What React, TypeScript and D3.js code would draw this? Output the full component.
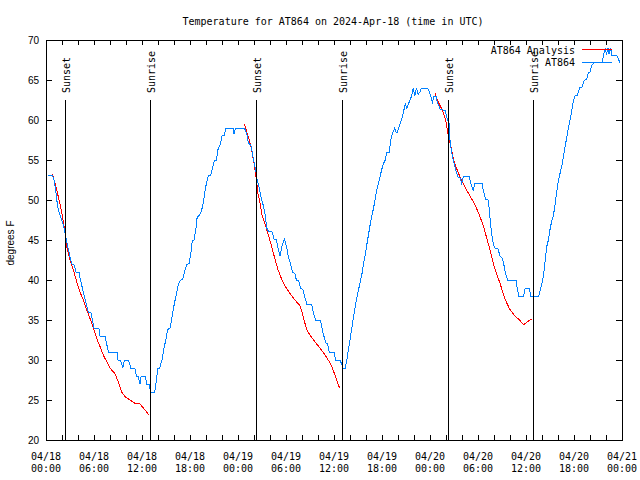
import * as d3 from "d3";

const W = 640, H = 480;
const PLOT = { left: 46, right: 622, top: 40, bottom: 440 };
const START = Date.UTC(2024, 3, 18, 0, 0);
const hr = (h: number) => new Date(START + h * 3600e3);

// observations, [hours since 04/18 00:00 UTC, degrees F]
const observed: [number, number][] = [
  [0.25, 53.1], [0.8, 53.1], [1.0, 52.5], [1.2, 51.3], [1.45, 49.2], [1.75, 48.1], [2.04, 47.3], [2.29, 46.3],
  [2.5, 45.3], [2.7, 44.2], [2.9, 43.4], [3.2, 42.0], [3.5, 41.9], [3.75, 41.0], [4.15, 40.9], [4.25, 40.3],
  [4.5, 39.2], [4.8, 37.9], [5.1, 36.7], [5.3, 36.0], [5.6, 36.0], [5.8, 35.0], [6.0, 34.0], [6.6, 34.0],
  [6.75, 33.0], [7.4, 33.0], [7.5, 32.4], [7.8, 31.0], [8.9, 31.0], [9.0, 30.0], [9.3, 30.0], [9.6, 29.0],
  [9.8, 30.0], [10.3, 30.0], [10.6, 29.0], [11.1, 29.0], [11.3, 28.0], [11.5, 28.0], [11.75, 27.0], [11.9, 28.0],
  [12.4, 28.0], [12.6, 27.0], [12.9, 27.0], [13.0, 26.4], [13.05, 26.0], [13.6, 26.0], [13.8, 27.5], [14.0, 29.0],
  [14.2, 29.0], [14.5, 30.0], [14.75, 31.5], [15.0, 32.6], [15.2, 33.8], [15.5, 34.0], [15.7, 35.0], [15.9, 36.3],
  [16.1, 37.3], [16.3, 38.3], [16.5, 39.3], [16.75, 39.9], [17.1, 40.1], [17.4, 41.3], [17.6, 41.9], [17.9, 42.1],
  [18.1, 43.3], [18.3, 45.0], [18.5, 45.0], [18.75, 46.5], [18.9, 47.9], [19.1, 48.0], [19.4, 48.5], [19.7, 49.8],
  [19.9, 51.3], [20.1, 52.3], [20.3, 53.1], [20.6, 53.1], [20.9, 54.4], [21.1, 55.0], [21.3, 55.0], [21.5, 56.3],
  [21.8, 57.0], [22.0, 58.0], [22.3, 58.1], [22.5, 59.0], [23.4, 59.0], [23.5, 58.2], [23.7, 59.0], [24.8, 59.0],
  [25.1, 58.3], [25.3, 57.1], [25.6, 56.9], [25.8, 55.8], [26.0, 54.8], [26.2, 53.8], [26.4, 52.5], [26.7, 51.3],
  [26.95, 50.0], [27.2, 49.2], [27.4, 48.1], [27.6, 46.5], [27.8, 46.1], [28.3, 46.0], [28.5, 45.1], [28.8, 45.0],
  [29.0, 44.0], [29.25, 43.0], [29.5, 44.2], [29.8, 45.1], [30.1, 44.0], [30.3, 42.9], [30.6, 41.9], [30.8, 41.0],
  [31.1, 40.8], [31.3, 40.0], [31.6, 39.9], [31.8, 39.0], [32.1, 38.8], [32.4, 37.7], [32.6, 37.0], [33.2, 37.0],
  [33.4, 36.0], [33.7, 35.0], [34.3, 35.0], [34.5, 34.0], [34.7, 33.1], [35.0, 32.1], [35.2, 32.0], [35.4, 31.0],
  [36.0, 31.0], [36.2, 30.0], [36.75, 30.0], [37.0, 29.4], [37.1, 29.0], [37.4, 29.0], [37.6, 30.0], [37.8, 31.3],
  [38.0, 32.5], [38.2, 33.8], [38.4, 35.2], [38.6, 36.3], [38.8, 37.5], [39.0, 38.5], [39.25, 39.6], [39.5, 40.8],
  [39.7, 42.1], [39.9, 43.1], [40.1, 44.4], [40.3, 45.6], [40.5, 46.8], [40.7, 47.9], [40.9, 48.8], [41.1, 49.8],
  [41.3, 51.0], [41.5, 51.9], [41.75, 52.9], [41.96, 53.8], [42.2, 54.6], [42.4, 55.0], [42.6, 56.0], [42.9, 56.0],
  [43.1, 57.5], [43.3, 58.3], [43.6, 59.0], [43.75, 58.5], [43.9, 58.4], [44.1, 59.0], [44.3, 59.6], [44.6, 60.6],
  [44.9, 62.0], [45.1, 61.5], [45.3, 62.0], [45.5, 62.5], [45.7, 63.0], [45.9, 64.0], [46.1, 63.0], [46.3, 64.0],
  [46.5, 63.2], [46.75, 63.5], [46.9, 64.0], [47.7, 64.0], [48.0, 63.3], [48.3, 62.2], [48.5, 63.0], [48.8, 63.0],
  [48.9, 62.2], [49.0, 62.0], [49.3, 61.3], [49.9, 61.2], [50.2, 60.0], [50.4, 59.5], [50.5, 57.5], [50.7, 56.0],
  [50.9, 55.0], [51.1, 54.2], [51.3, 53.5], [51.5, 52.9], [51.8, 52.7], [51.96, 52.1], [52.2, 53.0], [52.9, 53.0],
  [53.1, 52.1], [53.4, 51.2], [53.6, 52.1], [54.5, 52.1], [54.7, 51.0], [54.96, 50.1], [55.3, 50.0], [55.5, 47.7],
  [55.7, 45.8], [55.9, 44.6], [56.1, 44.0], [56.5, 43.9], [56.75, 43.0], [57.0, 42.8], [57.2, 42.1], [57.4, 41.0],
  [57.7, 40.0], [58.75, 40.0], [58.9, 39.0], [59.1, 38.0], [59.7, 38.0], [59.9, 39.0], [60.4, 39.0], [60.6, 38.0],
  [61.6, 38.0], [61.9, 39.2], [62.2, 40.6], [62.4, 42.5], [62.6, 44.2], [62.8, 45.0], [63.0, 46.3], [63.2, 47.3],
  [63.4, 47.9], [63.6, 49.2], [63.8, 50.8], [64.0, 52.1], [64.25, 53.3], [64.5, 54.4], [64.7, 55.6], [64.9, 56.7],
  [65.1, 57.9], [65.3, 59.0], [65.5, 60.0], [65.7, 61.0], [65.9, 62.3], [66.1, 63.0], [66.4, 63.1], [66.7, 64.0],
  [67.0, 64.1], [67.2, 64.8], [67.4, 65.0], [67.6, 65.1], [67.8, 65.9], [68.0, 66.0], [68.2, 66.8], [68.4, 67.0],
  [68.6, 67.2], [69.5, 67.2], [69.7, 68.1], [69.9, 69.0], [70.05, 68.2], [70.25, 69.0], [70.35, 68.2], [70.6, 69.0],
  [70.7, 68.1], [71.3, 68.1], [71.5, 67.8], [71.75, 67.1],
];

// analysis runs (one per night)
const analysisNight1: [number, number][] = [
  [0.79, 53.3], [1.1, 52.2], [1.54, 50.4], [1.96, 48.5], [2.3, 46.5], [2.58, 44.2], [3.0, 42.5], [3.42, 41.3],
  [3.83, 39.8], [4.25, 38.5], [4.67, 37.5], [5.08, 36.3], [5.5, 35.2], [5.92, 34.0], [6.33, 32.7], [6.75, 31.7],
  [7.17, 30.6], [7.58, 29.8], [8.0, 29.0], [8.6, 28.3], [9.04, 27.3], [9.46, 26.0], [9.9, 25.4], [10.5, 25.0],
  [11.1, 24.6], [11.75, 24.5], [12.17, 24.0], [12.5, 23.6], [12.9, 23.1],
];
const analysisNight2: [number, number][] = [
  [24.8, 59.5], [25.1, 58.5], [25.4, 57.5], [25.7, 56.3], [26.0, 54.6], [26.25, 52.9], [26.5, 50.8], [26.75, 49.6],
  [27.0, 48.1], [27.4, 46.9], [27.8, 45.6], [28.2, 44.2], [28.6, 42.7], [29.0, 41.3], [29.5, 40.0], [29.9, 39.2],
  [30.5, 38.3], [31.1, 37.5], [31.75, 36.8], [32.0, 36.0], [32.25, 35.0], [32.6, 33.8], [33.0, 33.1], [33.6, 32.3],
  [34.25, 31.5], [34.9, 30.6], [35.4, 29.8], [35.8, 29.0], [36.2, 27.9], [36.4, 27.3], [36.7, 26.5],
];
const analysisNight3: [number, number][] = [
  [48.6, 63.4], [49.0, 62.3], [49.5, 61.3], [49.9, 60.2], [50.1, 59.2], [50.3, 57.9], [50.6, 56.7], [50.9, 55.2],
  [51.3, 54.0], [51.75, 52.9], [52.2, 52.0], [52.6, 51.2], [53.0, 50.5], [53.4, 49.8], [53.8, 49.0], [54.25, 47.9],
  [54.7, 46.7], [55.1, 45.2], [55.5, 43.8], [55.9, 42.1], [56.3, 40.8], [56.75, 39.6], [57.2, 38.1], [57.6, 37.1],
  [58.0, 36.3], [58.6, 35.5], [59.2, 35.0], [59.7, 34.4], [60.2, 34.8], [60.7, 35.1],
];

const sunLabels = ["Sunset", "Sunrise", "Sunset", "Sunrise", "Sunset", "Sunrise"];
const sunHours = [2.41, 13.04, 26.29, 37.04, 50.29, 60.91];

const RED = "#ff0000", BLUE = "#0080ff";
const MONO = "'DejaVu Sans Mono', monospace";
const SANS = "'Liberation Sans', Arial, sans-serif";

export default function App() {
  const x = d3.scaleUtc().domain([hr(0), hr(72)]).range([PLOT.left, PLOT.right]);
  const y = d3.scaleLinear().domain([20, 70]).range([PLOT.bottom, PLOT.top]);
  const line = d3.line<[number, number]>().x((d) => x(hr(d[0]))).y((d) => y(d[1]));

  const majorTicks = x.ticks(d3.utcHour.every(6)!);
  const minorTicks = x.ticks(d3.utcHour.every(2)!);
  const yTicks = y.ticks(10);
  const fmtDay = d3.utcFormat("%m/%d"), fmtTime = d3.utcFormat("%H:%M");
  const TL = 5;

  return (
    <svg width={W} height={H} style={{ position: "absolute", left: 0, top: 0, background: "#fff" }}>
      <text x={333} y={25} textAnchor="middle" fontSize={10} fontFamily={MONO}>
        Temperature for AT864 on 2024-Apr-18 (time in UTC)
      </text>

      {/* ticks */}
      <g stroke="#000" strokeWidth={1} shapeRendering="crispEdges">
        {minorTicks.map((t) => (
          <g key={+t}>
            <line x1={x(t)} x2={x(t)} y1={PLOT.bottom} y2={PLOT.bottom - TL} />
            <line x1={x(t)} x2={x(t)} y1={PLOT.top} y2={PLOT.top + TL} />
          </g>
        ))}
        {yTicks.map((t) => (
          <g key={t}>
            <line x1={PLOT.left} x2={PLOT.left + TL + 1} y1={y(t)} y2={y(t)} />
            <line x1={PLOT.right} x2={PLOT.right - TL - 1} y1={y(t)} y2={y(t)} />
          </g>
        ))}
      </g>

      {majorTicks.map((t) => (
        <text key={+t} x={x(t)} textAnchor="middle" fontSize={10} fontFamily={MONO}>
          <tspan x={x(t)} y={460}>{fmtDay(t)}</tspan>
          <tspan x={x(t)} y={472}>{fmtTime(t)}</tspan>
        </text>
      ))}
      {yTicks.map((t) => (
        <text key={t} x={39} y={y(t) + 4} textAnchor="end" fontSize={10} fontFamily={SANS}>
          {t}
        </text>
      ))}
      <text transform={`translate(14,243) rotate(-90)`} textAnchor="middle" fontSize={10} fontFamily={SANS}>
        degrees F
      </text>

      {/* series */}
      <g fill="none" strokeWidth={1} shapeRendering="crispEdges">
        {[analysisNight1, analysisNight2, analysisNight3].map((s, i) => (
          <path key={i} d={line(s) ?? ""} stroke={RED} />
        ))}
        <path d={line(observed) ?? ""} stroke={BLUE} />
      </g>

      {/* sunrise / sunset markers */}
      {sunHours.map((h, i) => (
        <g key={i}>
          <line x1={x(hr(h))} x2={x(hr(h))} y1={100} y2={PLOT.bottom} stroke="#000" shapeRendering="crispEdges" />
          <text transform={`translate(${x(hr(h)) + 5},93) rotate(-90)`} textAnchor="start" fontSize={10} fontFamily={MONO}>
            {sunLabels[i]}
          </text>
        </g>
      ))}

      {/* legend */}
      <text x={575} y={53.5} textAnchor="end" fontSize={10} fontFamily={MONO}>AT864 Analysis</text>
      <line x1={582} x2={612} y1={49.5} y2={49.5} stroke={RED} shapeRendering="crispEdges" />
      <text x={575} y={66} textAnchor="end" fontSize={10} fontFamily={MONO}>AT864</text>
      <line x1={582} x2={612} y1={62.5} y2={62.5} stroke={BLUE} shapeRendering="crispEdges" />

      <rect x={PLOT.left} y={PLOT.top} width={PLOT.right - PLOT.left} height={PLOT.bottom - PLOT.top}
        fill="none" stroke="#000" shapeRendering="crispEdges" />
    </svg>
  );
}
